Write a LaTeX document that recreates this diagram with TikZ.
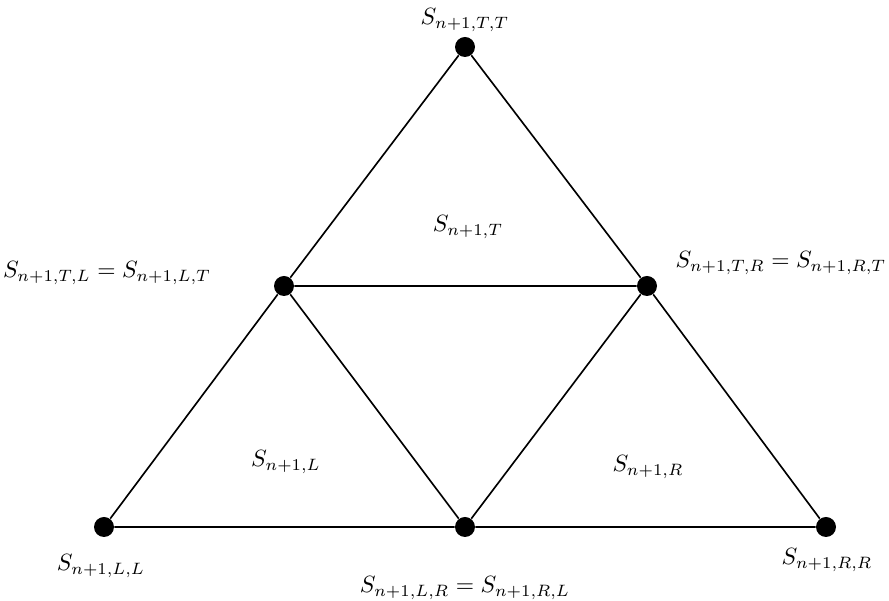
\documentclass[tikz,border=0pt]{standalone}
\begin{document}
\begin{tikzpicture}[x=0.425pt,y=-0.425pt,
  dot/.style={circle,fill=black,inner sep=0pt,minimum size=8.5pt},
  edge/.style={line width=0.7pt},
  lab/.style={inner sep=0pt}]
\useasboundingbox (0,0) rectangle (889,601);
\node[dot] (t) at (465,47) {};
\node[dot] (ml) at (284,286) {};
\node[dot] (mr) at (647,286) {};
\node[dot] (bl) at (104,527) {};
\node[dot] (bm) at (465,527) {};
\node[dot] (br) at (826,527) {};
\draw[edge] (t) -- (ml) -- (bl) -- (bm) -- (br) -- (mr) -- (t);
\draw[edge] (ml) -- (mr) -- (bm) -- (ml);
\node[lab] (lt) at (465,20) {$S_{n+1,T,T}$};
\node[lab] (lml) at (107,273) {$S_{n+1,T,L} = S_{n+1,L,T}$};
\node[lab] (lmr) at (781,263) {$S_{n+1,T,R} = S_{n+1,R,T}$};
\node[lab] (lbl) at (101,566) {$S_{n+1,L,L}$};
\node[lab] (lbm) at (465,588) {$S_{n+1,L,R} = S_{n+1,R,L}$};
\node[lab] (lbr) at (827,560) {$S_{n+1,R,R}$};
\node[lab] (ct) at (468,227) {$S_{n+1,T}$};
\node[lab] (cl) at (286,462) {$S_{n+1,L}$};
\node[lab] (cr) at (648,467) {$S_{n+1,R}$};
\end{tikzpicture}
\end{document}
